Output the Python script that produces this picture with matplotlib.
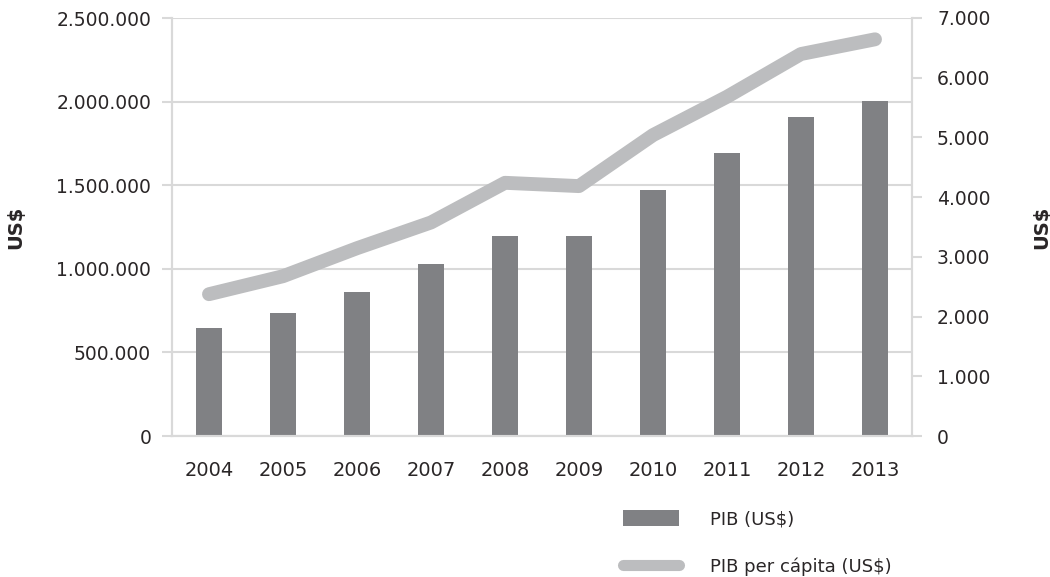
import matplotlib.pyplot as plt
import matplotlib.ticker as mticker
from matplotlib.patches import Patch
from matplotlib.lines import Line2D

# data
years = ["2004", "2005", "2006", "2007", "2008", "2009", "2010", "2011", "2012", "2013"]
pib = [645000, 734000, 860000, 1028000, 1195000, 1195000, 1471000, 1692000, 1907000, 2003000]
pib_per_capita = [2375, 2676, 3145, 3576, 4240, 4185, 5039, 5681, 6397, 6643]

bar_color = "#808184"
line_color = "#bcbdbf"
grid_color = "#d9d9d9"
text_color = "#2a2627"

plt.rcParams['font.family'] = ['DejaVu Sans']

fig = plt.figure(figsize=(10.5, 5.77), dpi=100)
ax = fig.add_axes([172 / 1050, 1 - 436 / 577, 740 / 1050, 418 / 577])
ax2 = ax.twinx()

x = list(range(len(years)))
ax.bar(x, pib, width=0.35, color=bar_color, zorder=2)
ax2.plot(x, pib_per_capita, color=line_color, linewidth=10, solid_capstyle='round', zorder=3)

ax.set_xlim(-0.5, len(years) - 0.5)
ax.set_ylim(0, 2500000)
ax2.set_ylim(0, 7000)
ax.set_yticks(range(0, 2500001, 500000))
ax2.set_yticks(range(0, 7001, 1000))

def dots(v, pos):
    return f"{int(v):,}".replace(",", ".")

ax.yaxis.set_major_formatter(mticker.FuncFormatter(dots))
ax2.yaxis.set_major_formatter(mticker.FuncFormatter(dots))
ax.set_xticks(x)
ax.set_xticklabels(years)

ax.yaxis.grid(True, color=grid_color, linewidth=1.5, zorder=0)
ax.set_axisbelow(True)

for a in (ax, ax2):
    a.spines["top"].set_visible(False)
    for side in ("left", "right", "bottom"):
        a.spines[side].set_color(grid_color)
        a.spines[side].set_linewidth(1.5)
    a.tick_params(colors=grid_color, labelcolor=text_color, labelsize=13.5, width=1.5, length=7)
ax.tick_params(axis='x', length=0, pad=18, labelsize=14)
ax.tick_params(axis='y', pad=8)
ax2.tick_params(axis='y', pad=11)

ax.set_ylabel("US$", fontsize=14, fontweight='bold', color=text_color, labelpad=22)
ax2.set_ylabel("US$", fontsize=14, fontweight='bold', color=text_color, labelpad=30)

handles = [Patch(facecolor=bar_color, edgecolor='none'),
           Line2D([0], [0], color=line_color, linewidth=8, solid_capstyle='round')]
fig.legend(handles, ["PIB (US$)", "PIB per cápita (US$)"], loc='upper left',
           bbox_to_anchor=(607 / 1050, 1 - 494 / 577), frameon=False, fontsize=13,
           handlelength=3.1, handleheight=1.0, handletextpad=1.7, labelspacing=1.6,
           labelcolor=text_color)

fig.savefig("out.png", dpi=100)
